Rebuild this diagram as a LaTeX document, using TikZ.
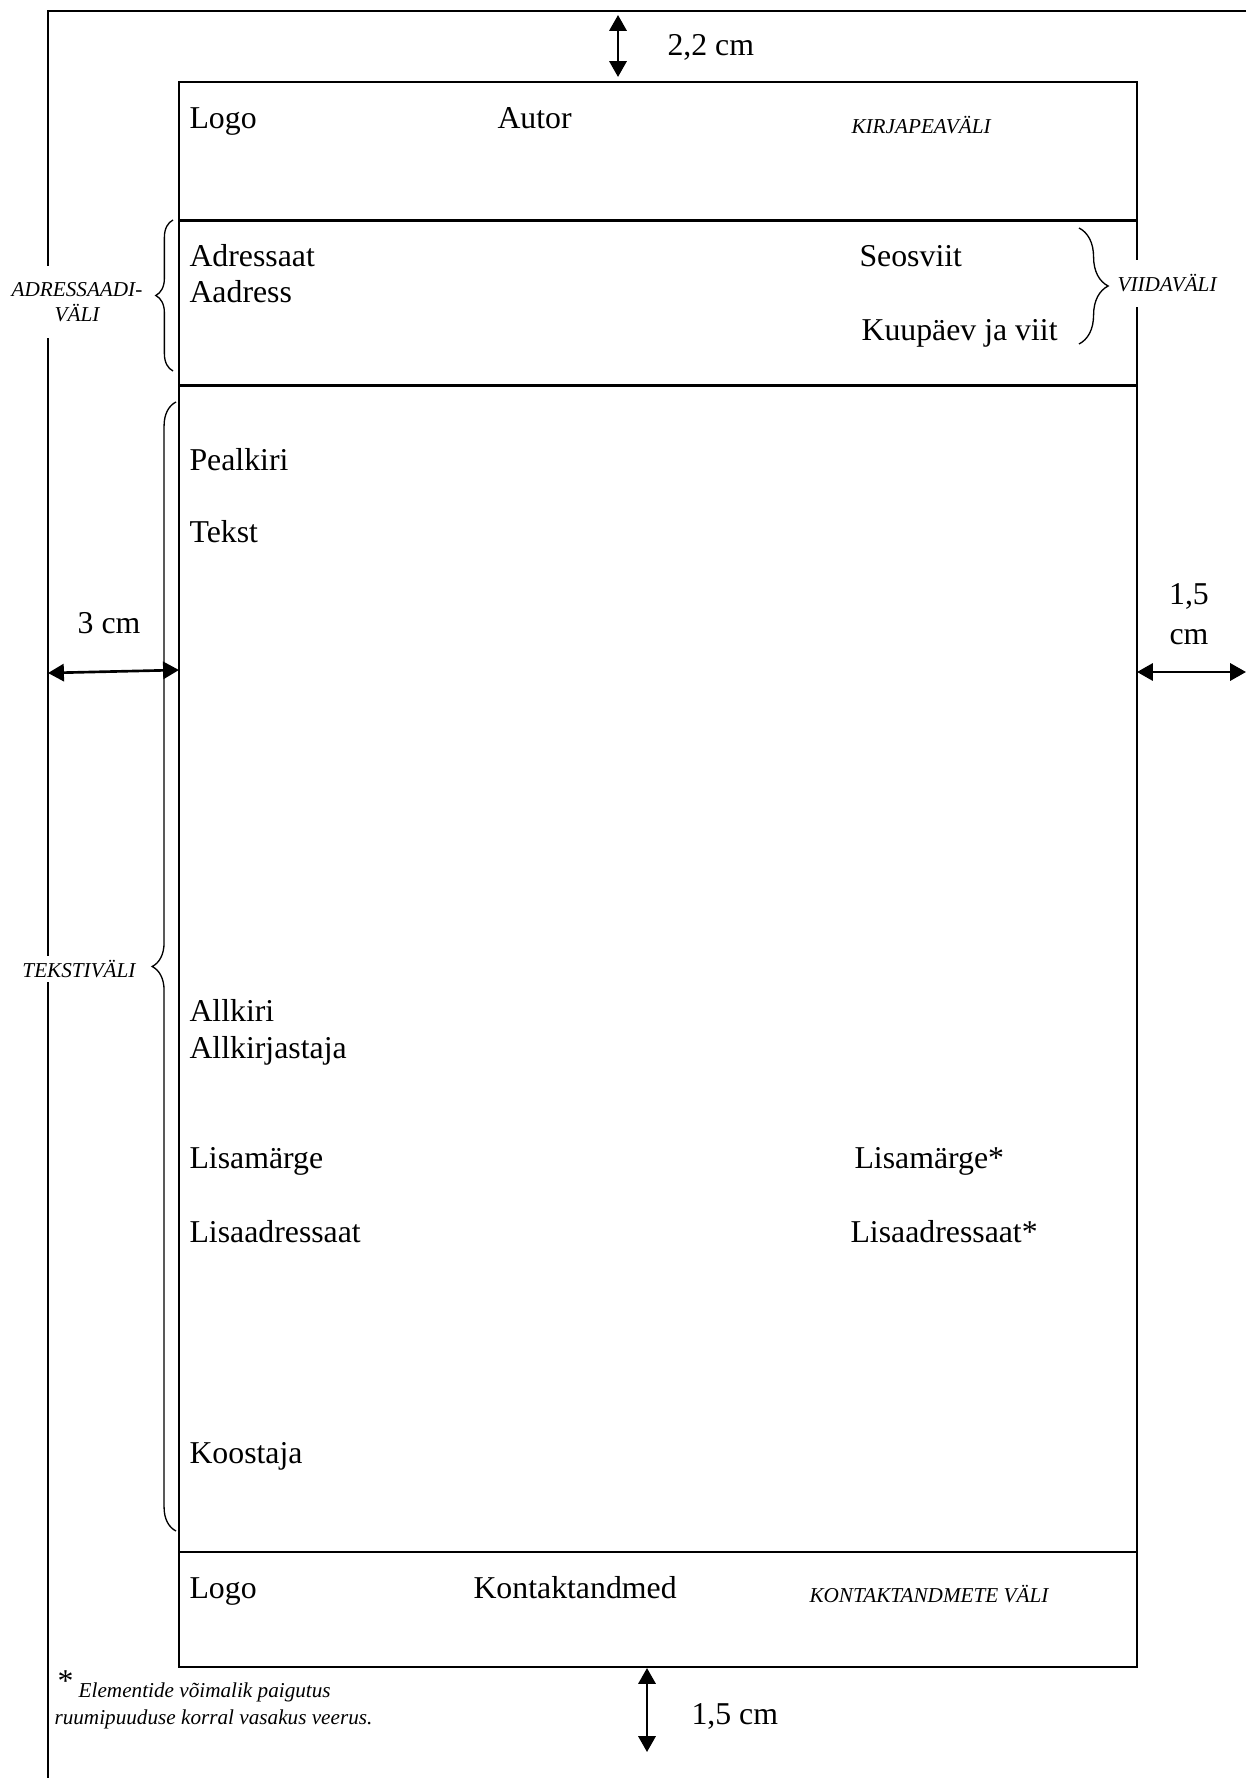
\documentclass[tikz,border=0pt]{standalone}
\usepackage{fontspec}
\setmainfont{Liberation Serif}
\usepackage{tikz}
\usetikzlibrary{arrows.meta, decorations.pathreplacing}

\begin{document}
\begin{tikzpicture}[
    x=0.3774pt, y=-0.3774pt,
    frameline/.style={line width=1pt},
    txt/.style={anchor=base west, inner sep=0pt, font=\fontsize{12}{14}\selectfont},
    dimtxt/.style={anchor=base, inner sep=0pt, font=\fontsize{12}{15}\selectfont},
    zone/.style={inner sep=0pt, font=\fontsize{8}{9.4}\selectfont\itshape},
    dim/.style={{Triangle[length=6pt, width=6.5pt]}-{Triangle[length=6pt, width=6.5pt]}, line width=1pt},
    zonebrace/.style={decorate, decoration={brace, amplitude=#1}, line width=0.5pt}
]
    \useasboundingbox (0,0) rectangle (1246,1778);

    % Page edge and letter area
    \draw[frameline] (1246,11) -- (48,11) -- (48,1778);
    \draw[frameline] (179,82) rectangle (1137,1667);
    \draw[frameline] (179,220.5) -- (1137,220.5);
    \draw[frameline] (179,385.5) -- (1137,385.5);
    \draw[frameline] (179,1552) -- (1137,1552);

    % Letterhead
    \node[txt] (logotop) at (189,129) {Logo};
    \node[txt] (autor) at (497,129) {Autor};
    \node[zone, anchor=base west] (kirjapea) at (851,134) {KIRJAPEAVÄLI};

    % Addressee and references
    \node[txt] (adressaat) at (189,267) {Adressaat};
    \node[txt] (aadress) at (189,303) {Aadress};
    \node[txt] (seosviit) at (859,267) {Seosviit};
    \node[txt] (kuupaev) at (861,341) {Kuupäev ja viit};

    % Text area
    \node[txt] (pealkiri) at (189,470) {Pealkiri};
    \node[txt] (tekst) at (189,542) {Tekst};
    \node[txt] (allkiri) at (189,1021) {Allkiri};
    \node[txt] (allkirjastaja) at (189,1058) {Allkirjastaja};
    \node[txt] (lisamarge) at (189,1168) {Lisamärge};
    \node[txt] (lisaadr) at (189,1242) {Lisaadressaat};
    \node[txt] (lisamarge2) at (854,1168) {Lisamärge*};
    \node[txt] (lisaadr2) at (850,1242) {Lisaadressaat*};
    \node[txt] (koostaja) at (189,1463) {Koostaja};

    % Contact area
    \node[txt] (logobot) at (189,1598) {Logo};
    \node[txt] (kontakt) at (473,1598) {Kontaktandmed};
    \node[zone, anchor=base west] (kontaktvali) at (809,1602) {KONTAKTANDMETE VÄLI};

    % Braces and zone names
    \coordinate (adrTop) at (173,220);
    \coordinate (adrBot) at (173,371);
    \draw[zonebrace=6.5pt] (adrBot) -- (adrTop);
    \node[zone, fill=white, align=center, inner ysep=6pt, inner xsep=1pt] (adrvali) at (77,302) {ADRESSAADI-\\VÄLI};

    \coordinate (viitTop) at (1079,228);
    \coordinate (viitBot) at (1079,344);
    \draw[zonebrace=11pt] (viitTop) -- (viitBot);
    \node[zone, fill=white, anchor=base west, inner ysep=5.5pt] (viidavali) at (1117,292) {VIIDAVÄLI};

    \coordinate (tekstTop) at (176,402);
    \coordinate (tekstBot) at (176,1531);
    \draw[zonebrace=9pt] (tekstBot) -- (tekstTop);
    \node[zone, fill=white, inner ysep=1.5pt, inner xsep=1pt] (tekstivali) at (79,969) {TEKSTIVÄLI};

    % Margins
    \coordinate (topA) at (618,15);
    \coordinate (topB) at (618,77);
    \draw[dim] (topA) -- (topB);
    \node[txt] (m22) at (667,56) {2,2 cm};

    \coordinate (leftA) at (48,673);
    \coordinate (leftB) at (179,670);
    \draw[dim] (leftA) -- (leftB);
    \node[dimtxt] (m3) at (109,633) {3 cm};

    \coordinate (rightA) at (1137,672);
    \coordinate (rightB) at (1246,672);
    \draw[dim] (rightA) -- (rightB);
    \node[dimtxt, align=center] (m15r) at (1189,644) {1,5\\cm};

    \coordinate (botA) at (647,1668);
    \coordinate (botB) at (647,1752);
    \draw[dim] (botA) -- (botB);
    \node[txt] (m15b) at (691,1724) {1,5 cm};

    % Footnote
    \node[txt] (footA) at (57,1697) {\raisebox{2pt}{*}\,{\fontsize{8}{9.4}\selectfont\itshape Elementide võimalik paigutus}};
    \node[zone, anchor=base west] (footB) at (54,1724) {ruumipuuduse korral vasakus veerus.};
\end{tikzpicture}
\end{document}
